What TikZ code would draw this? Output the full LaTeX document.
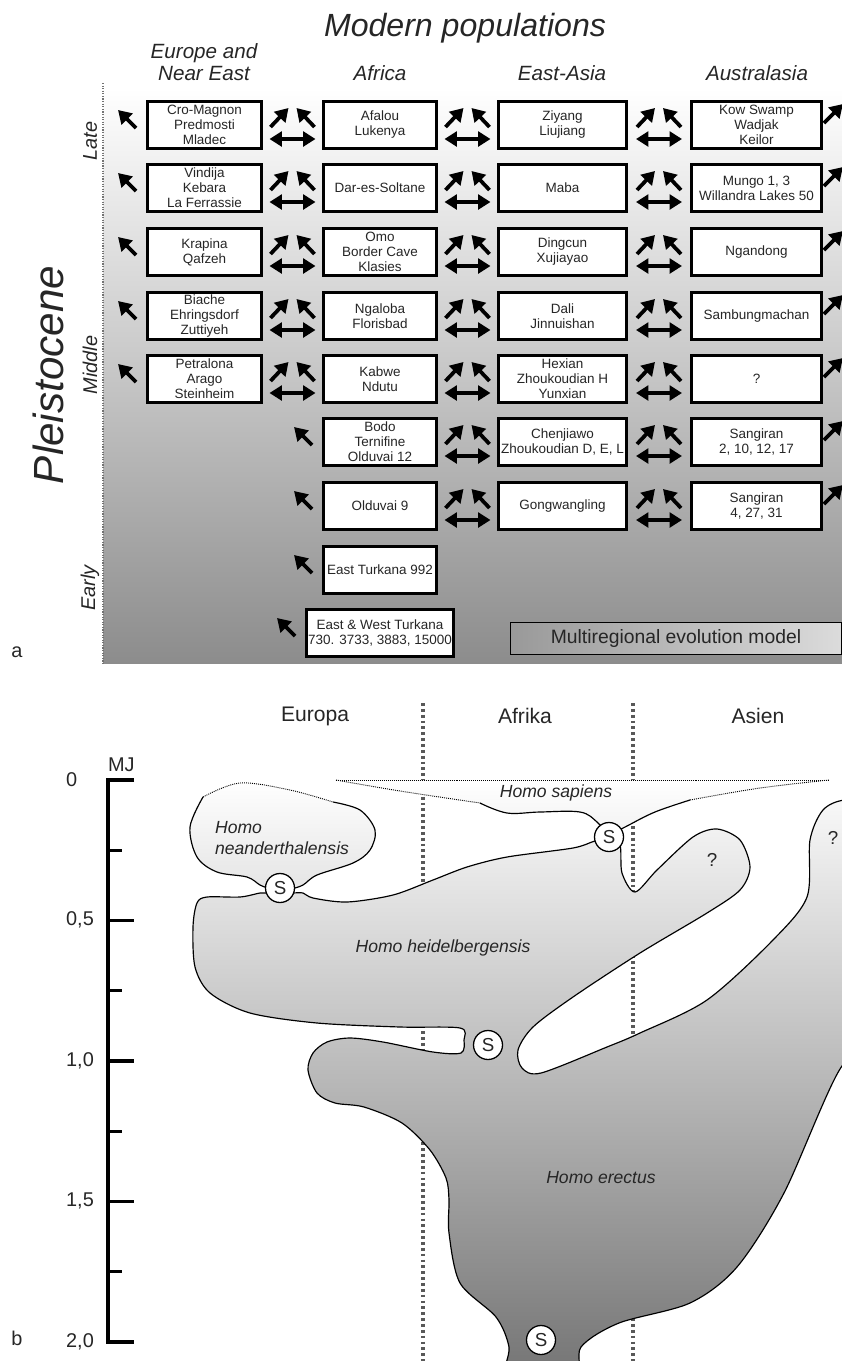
\documentclass[tikz,border=0pt]{standalone}
\usepackage{fontspec}
\setmainfont{Liberation Sans}
\usepackage{tikz}
\usetikzlibrary{arrows.meta,calc,positioning}
\tikzstyle{site}=[draw=black,line width=2.2pt,fill=white,align=center,inner sep=1pt,minimum height=1.42cm,text=black!85,font=\fontsize{11.5}{12.8}\selectfont]
\tikzstyle{eusite}=[site,minimum width=3.43cm]
\tikzstyle{afsite}=[site,minimum width=3.40cm]
\tikzstyle{easite}=[site,minimum width=3.85cm]
\tikzstyle{ausite}=[site,minimum width=3.91cm]
\tikzstyle{fat}=[line width=3.2pt,-{Triangle[width=13pt,length=11pt]}]
\tikzstyle{dfat}=[line width=3pt,{Triangle[width=12.5pt,length=10.5pt]}-{Triangle[width=12.5pt,length=10.5pt]}]
\tikzstyle{colhead}=[text=black!85,align=center,font=\fontsize{17.6}{19}\selectfont\itshape]
\tikzstyle{period}=[rotate=90,text=black!85,font=\fontsize{17}{20}\selectfont\itshape]
\tikzstyle{region}=[text=black!85,font=\fontsize{18}{21}\selectfont]
\tikzstyle{species}=[text=black!85,font=\fontsize{15}{18}\selectfont\itshape]
\tikzstyle{scircle}=[circle,draw=black,fill=white,line width=1.1pt,minimum size=0.87cm,inner sep=0pt,text=black!85,font=\fontsize{16}{16}\selectfont]
\tikzstyle{divider}=[black!65,line width=2.6pt,dash pattern=on 2.4pt off 2.6pt]
\tikzstyle{rim}=[black,line width=1pt]
\tikzstyle{dotrim}=[black,line width=0.8pt,dash pattern=on 0.8pt off 0.9pt]
\tikzstyle{bfill}=[path picture={\shade[top color=white,bottom color=black!55] (0,780) rectangle (842,1361);}]
\tikzstyle{axisline}=[black,line width=2.6pt]
\tikzstyle{ticklab}=[anchor=west,text=black!85,font=\fontsize{17}{20}\selectfont]
\tikzstyle{panel}=[text=black!85,font=\fontsize{17}{20}\selectfont]

% arrows between two neighbouring boxes
\newcommand{\flowpair}[2]{%
  \coordinate (m) at ($(#1.east)!.5!(#2.west)$);
  \draw[fat] ($(m)+(-22,2)$) -- ($(m)+(-4,-17)$);
  \draw[fat] ($(m)+(22,2)$) -- ($(m)+(4,-17)$);
  \draw[dfat] ($(m)+(-23,14)$) -- ($(m)+(23,14)$);}
\newcommand{\flowleft}[1]{\draw[fat] ($(#1.west)+(-10,3)$) -- ($(#1.west)+(-28,-15)$);}
\newcommand{\flowright}[1]{\draw[fat] ($(#1.east)+(1,-2)$) -- ($(#1.east)+(20,-21)$);}

\begin{document}
\begin{tikzpicture}[x=0.03cm,y=-0.03cm]
\clip (0,0) rectangle (842,1361);

%% panel a
\shade[top color=white,bottom color=black!45] (103,88) rectangle (842,663);
\draw[black!55,line width=1.5pt,dash pattern=on 1pt off 1.2pt] (103,83) -- (103,663);

\node[text=black!85,font=\fontsize{27.4}{30}\selectfont\itshape] (title) at (465,28) {Modern populations};
\node[colhead] (hEu) at (204,62) {Europe and\\Near East};
\node[colhead] (hAf) at (380,73) {Africa};
\node[colhead] (hEa) at (562,73) {East-Asia};
\node[colhead] (hAu) at (757,73) {Australasia};

\node[period] (late) at (90,141) {Late};
\node[period] (middle) at (90,365) {Middle};
\node[period] (early) at (90,588) {Early};
\node[rotate=90,text=black!85,font=\fontsize{36}{40}\selectfont\itshape] (pleist) at (48,375) {Pleistocene};
\node[panel] (pa) at (17,652) {a};

% Europe and Near East
\node[eusite] (eu1) at (204.5,125) {Cro-Magnon\\Predmosti\\Mladec};
\node[eusite] (eu2) at (204.5,188) {Vindija\\Kebara\\La Ferrassie};
\node[eusite] (eu3) at (204.5,252) {Krapina\\Qafzeh};
\node[eusite] (eu4) at (204.5,316) {Biache\\Ehringsdorf\\Zuttiyeh};
\node[eusite] (eu5) at (204.5,379) {Petralona\\Arago\\Steinheim};
% Africa
\node[afsite] (af1) at (380,125) {Afalou\\Lukenya};
\node[afsite] (af2) at (380,188) {Dar-es-Soltane};
\node[afsite] (af3) at (380,252) {Omo\\Border Cave\\Klasies};
\node[afsite] (af4) at (380,316) {Ngaloba\\Florisbad};
\node[afsite] (af5) at (380,379) {Kabwe\\Ndutu};
\node[afsite] (af6) at (380,442) {Bodo\\Ternifine\\Olduvai 12};
\node[afsite] (af7) at (380,506) {Olduvai 9};
\node[afsite] (af8) at (380,570) {East Turkana 992};
\node[site,minimum width=4.42cm] (af9) at (380,633) {East \& West Turkana\\730. 3733, 3883, 15000};
% East-Asia
\node[easite] (ea1) at (562.5,125) {Ziyang\\Liujiang};
\node[easite] (ea2) at (562.5,188) {Maba};
\node[easite] (ea3) at (562.5,252) {Dingcun\\Xujiayao};
\node[easite] (ea4) at (562.5,316) {Dali\\Jinnuishan};
\node[easite] (ea5) at (562.5,379) {Hexian\\Zhoukoudian H\\Yunxian};
\node[easite] (ea6) at (562.5,442) {Chenjiawo\\Zhoukoudian D, E, L};
\node[easite] (ea7) at (562.5,506) {Gongwangling};
% Australasia
\node[ausite] (au1) at (756.5,125) {Kow Swamp\\Wadjak\\Keilor};
\node[ausite] (au2) at (756.5,188) {Mungo 1, 3\\Willandra Lakes 50};
\node[ausite] (au3) at (756.5,252) {Ngandong};
\node[ausite] (au4) at (756.5,316) {Sambungmachan};
\node[ausite] (au5) at (756.5,379) {?};
\node[ausite] (au6) at (756.5,442) {Sangiran\\2, 10, 12, 17};
\node[ausite] (au7) at (756.5,506) {Sangiran\\4, 27, 31};

\foreach \i in {1,...,5} {\flowleft{eu\i} \flowpair{eu\i}{af\i}}
\foreach \i in {1,...,7} {\flowpair{af\i}{ea\i} \flowpair{ea\i}{au\i} \flowright{au\i}}
\foreach \i in {6,...,9} {\flowleft{af\i}}

\node[draw=black,line width=0.8pt,left color=black!40,middle color=black!4,right color=black!14,minimum width=9.94cm,minimum height=0.97cm,text=black!85,font=\fontsize{16.5}{18}\selectfont] (model) at (676,638.5) {Multiregional evolution model};

%% panel b
\draw[divider] (423,703) -- (423,1361);
\draw[divider] (633,703) -- (633,1361);
\node[region] (rEu) at (315,716) {Europa};
\node[region] (rAf) at (525,716) {Afrika};
\node[region] (rAs) at (758,716) {Asien};

\draw[axisline] (134,780) -- (108,780) -- (108,1342) -- (134,1342);
\foreach \k in {1,3,5,7} \draw[axisline] (108,{780+\k*70.25}) -- +(14,0);
\foreach \k in {2,4,6} \draw[axisline] (108,{780+\k*70.25}) -- +(26,0);
\node[ticklab] (mj) at (104,765) {MJ};
\node[ticklab] (t0) at (62,780) {0};
\node[ticklab] (t1) at (62,920) {0,5};
\node[ticklab] (t2) at (62,1061) {1,0};
\node[ticklab] (t3) at (62,1201) {1,5};
\node[ticklab] (t4) at (62,1342) {2,0};
\node[panel] (pb) at (17,1338) {b};

% Homo sapiens
\path[bfill] (336,780) -- (829,780) -- plot[smooth,tension=.6] coordinates {(829,780) (760,788) (690,800) (655,812) (627,826) (612,834) (607,834) (597,822) (580,812) (540,812) (507,813) (480,803) (400,791) (336,780)} -- cycle;
\draw[dotrim] (336,780) -- (829,780);
\draw[dotrim] plot[smooth,tension=.6] coordinates {(336,780) (400,791) (480,803)};
\draw[dotrim] plot[smooth,tension=.6] coordinates {(690,800) (760,788) (829,780)};
\draw[rim] plot[smooth,tension=.6] coordinates {(480,803) (507,813) (540,812) (580,812) (597,822) (607,834)};
\draw[rim] plot[smooth,tension=.6] coordinates {(612,834) (627,826) (655,812) (690,800)};

% Homo neanderthalensis
\path[bfill] plot[smooth cycle,tension=.55] coordinates {(280,891) (260,885) (247,877) (217,872) (197,857) (190,827) (203,797) (240,783) (290,790) (333,802) (360,810) (375,830) (370,850) (353,863) (317,875) (303,885)};
\draw[dotrim] plot[smooth,tension=.55] coordinates {(203,797) (240,783) (290,790) (333,802)};
\draw[rim] plot[smooth,tension=.55] coordinates {(333,802) (360,810) (375,830) (370,850) (353,863) (317,875) (303,885) (291,889) (280,891) (268,888) (260,885) (247,877) (217,872) (197,857) (190,827) (203,797)};

% Homo heidelbergensis and Homo erectus
\path[bfill,draw=black,line width=1pt] plot[smooth cycle,tension=.5] coordinates {
 (268,893) (291,893) (303,893) (313,898) (347,902) (393,895) (433,880) (467,867) (507,857) (573,848) (595,841) (609,840) (620,845) (622,873) (635,892) (657,870) (693,837) (717,829) (740,840) (750,867) (740,890) (707,913) (640,953) (573,997) (533,1027) (518,1050) (522,1068) (541,1073) (607,1047) (640,1033) (707,1000) (773,940) (807,897) (810,840) (823,810) (845,800) (880,805) (880,1060) (842,1066) (784,1193) (737,1267) (690,1303) (619,1323) (581,1347) (575,1380) (508,1380) (509,1347) (496,1317) (460,1283) (449,1233) (449,1200) (446,1178) (430,1150) (402,1123) (364,1107) (335,1103) (317,1093) (308,1070) (313,1053) (327,1042) (350,1038) (383,1042) (433,1052) (461,1053) (464,1040) (460,1028) (400,1027) (317,1023) (250,1013) (210,993) (195,967) (193,927) (197,903) (207,897) (240,897) (260,893)};

\node[species] (nsap) at (556,793) {Homo sapiens};
\node[species,align=left,anchor=west] (nnea) at (211,838) {Homo\\neanderthalensis};
\node[species] (nhei) at (443,948) {Homo heidelbergensis};
\node[species] (nere) at (601,1178) {Homo erectus};
\node[species,font=\fontsize{16}{18}\selectfont] (q1) at (712,860) {?};
\node[species,font=\fontsize{16}{18}\selectfont] (q2) at (833,838) {?};

\node[scircle] (s1) at (280,888) {S};
\node[scircle] (s2) at (609,837) {S};
\node[scircle] (s3) at (488,1045) {S};
\node[scircle] (s4) at (541,1340) {S};
\end{tikzpicture}
\end{document}
